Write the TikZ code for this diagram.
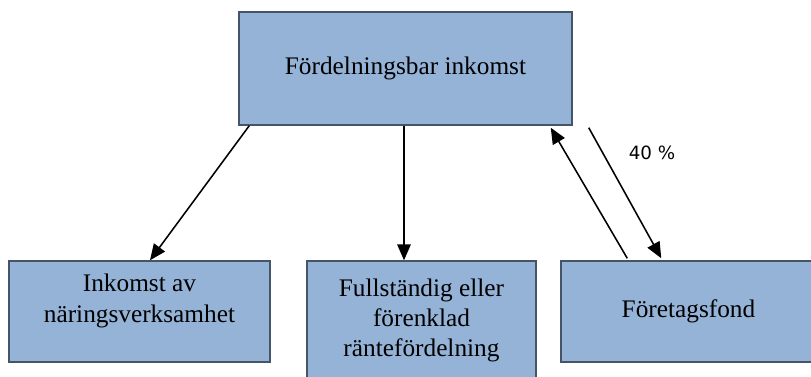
\documentclass[tikz,border=0pt]{standalone}
\usepackage{fontspec}
\setmainfont{Liberation Serif}
\newfontfamily\pctfont{DejaVu Sans}
\usetikzlibrary{arrows.meta,calc}
\definecolor{boxblue}{HTML}{95B3D7}
\definecolor{boxline}{HTML}{46546A}

\begin{document}
\begin{tikzpicture}[x=0.025cm, y=-0.025cm, >={Triangle[length=0.4cm, width=0.34cm]}]
    \useasboundingbox (0,0) rectangle (811,376);
    \clip (0,0) rectangle (811,376);
    \tikzset{box/.style={rectangle, draw=boxline, line width=1pt, fill=boxblue, align=center, font=\fontsize{18}{21.5}\selectfont}}

    \node [box, minimum width=8.325cm, minimum height=2.825cm] (fordel) at (405.5, 68.5) {\raisebox{-0.1cm}{Fördelningsbar inkomst}};
    \node [box, minimum width=6.525cm, minimum height=2.525cm] (naring) at (139.5, 311.5) {};
    \node [align=center, font=\fontsize{18}{21.5}\selectfont] (naringtext) at (139.5, 301) {Inkomst av\\näringsverksamhet};
    \node [box, minimum width=5.725cm, minimum height=2.975cm] (ranta) at (421.5, 320.5) {Fullständig eller\\förenklad\\räntefördelning};
    \node [box, minimum width=6.375cm, minimum height=2.525cm] (fond) at (688.5, 311.5) {Företagsfond};
    \node [font=\pctfont\fontsize{13}{15}\selectfont] (procent) at (652, 153) {40 \%};
    \coordinate (mitt) at ($(fordel.south)+(-1.5,0)$);

    \draw [->, line width=1.1pt] ($(fordel.south west)+(11,0)$) -- ($(naring.north)+(10.5,0)$);
    \draw [->, line width=1.1pt] (mitt) -- (mitt |- ranta.north);
    \draw [->, line width=1.1pt] ($(fond.north west)+(67,-2)$) -- ($(fordel.south east)+(-22,2)$);
    \draw [->, line width=1.1pt] ($(fordel.south east)+(16,2)$) -- ($(fond.north west)+(101,-2)$);
\end{tikzpicture}
\end{document}
